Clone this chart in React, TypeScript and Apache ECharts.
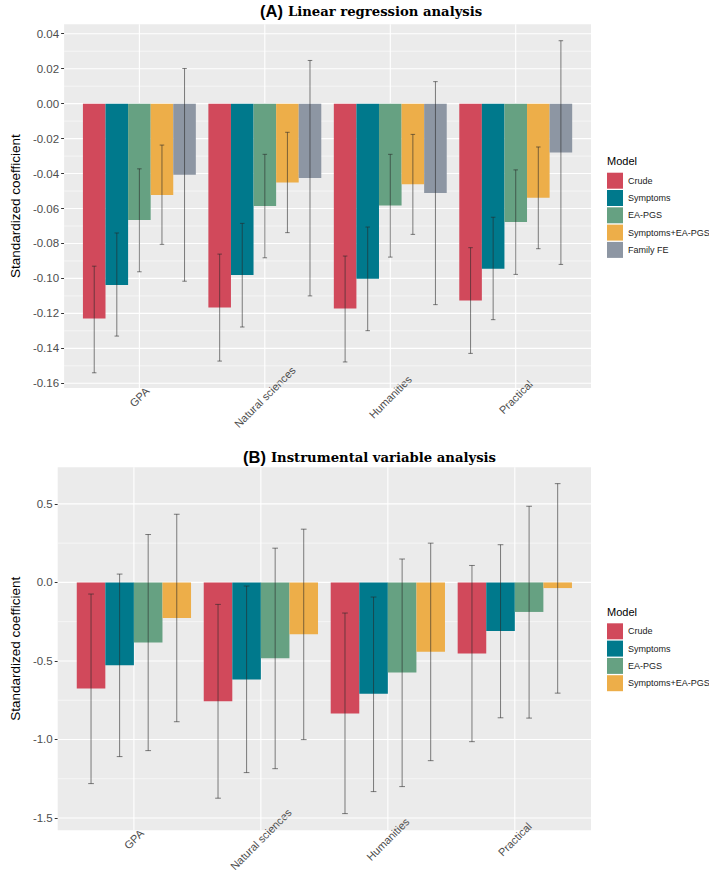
import React, { useEffect, useRef } from 'react';
import * as echarts from 'echarts';

// ---------- data ----------
const categories = ['GPA', 'Natural sciences', 'Humanities', 'Practical'];
const modelsA = ['Crude', 'Symptoms', 'EA-PGS', 'Symptoms+EA-PGS', 'Family FE'];
const modelsB = ['Crude', 'Symptoms', 'EA-PGS', 'Symptoms+EA-PGS'];

// Panel A: linear regression (rows = models, cols = categories)
const estimateA = [
  [-0.1230, -0.1167, -0.1172, -0.1127],
  [-0.1037, -0.0981, -0.1002, -0.0945],
  [-0.0666, -0.0585, -0.0583, -0.0677],
  [-0.0522, -0.0451, -0.0461, -0.0539],
  [-0.0407, -0.0426, -0.0511, -0.0279],
];
const lowerA = [
  [-0.1540, -0.1473, -0.1478, -0.1429],
  [-0.1330, -0.1278, -0.1299, -0.1236],
  [-0.0962, -0.0882, -0.0878, -0.0977],
  [-0.0805, -0.0738, -0.0748, -0.0830],
  [-0.1016, -0.1100, -0.1150, -0.0920],
];
const upperA = [
  [-0.0930, -0.0861, -0.0872, -0.0824],
  [-0.0740, -0.0685, -0.0706, -0.0650],
  [-0.0373, -0.0290, -0.0290, -0.0379],
  [-0.0237, -0.0164, -0.0176, -0.0248],
  [0.0201, 0.0247, 0.0126, 0.0360],
];

// Panel B: instrumental variable
const estimateB = [
  [-0.675, -0.756, -0.834, -0.453],
  [-0.527, -0.618, -0.709, -0.309],
  [-0.383, -0.483, -0.574, -0.188],
  [-0.226, -0.330, -0.442, -0.036],
];
const lowerB = [
  [-1.281, -1.374, -1.472, -1.014],
  [-1.109, -1.211, -1.332, -0.862],
  [-1.071, -1.186, -1.300, -0.864],
  [-0.887, -1.001, -1.135, -0.705],
];
const upperB = [
  [-0.074, -0.140, -0.195, 0.108],
  [0.053, -0.023, -0.093, 0.240],
  [0.305, 0.218, 0.149, 0.485],
  [0.434, 0.339, 0.250, 0.629],
];

// axis ticks
const majorTicksA = [0.04, 0.02, 0, -0.02, -0.04, -0.06, -0.08, -0.1, -0.12, -0.14, -0.16];
const minorTicksA = [0.03, 0.01, -0.01, -0.03, -0.05, -0.07, -0.09, -0.11, -0.13, -0.15];
const majorTicksB = [0.5, 0, -0.5, -1, -1.5];
const minorTicksB = [0.25, -0.25, -0.75, -1.25];
const yRangeA = [-0.1627, 0.0454];
const yRangeB = [-1.578, 0.733];
const xRange = [0.4, 4.6];
const catPositions = [1, 2, 3, 4];

// ---------- styles ----------
const COLORS: Record<string, string> = {
  Crude: '#D1495B',
  Symptoms: '#00798C',
  'EA-PGS': '#66A182',
  'Symptoms+EA-PGS': '#EDAE49',
  'Family FE': '#8D96A3',
};
const SANS = 'Liberation Sans, Arial, Helvetica, sans-serif';
const SERIF = 'DejaVu Serif, Liberation Serif, serif';
const PANEL_BG = '#EBEBEB';
const TICK_TEXT = '#4D4D4D';
const ERR_COLOR = 'rgba(40,40,40,0.58)';

function gridLineSeries(gi: number, yr: number[], majors: number[], minors: number[]) {
  const data: number[][] = [];
  minors.forEach((v) => data.push([1, v, 0]));
  majors.forEach((v) => data.push([1, v, 1]));
  catPositions.forEach((c) => data.push([c, 0, 2]));
  return {
    type: 'custom',
    xAxisIndex: gi,
    yAxisIndex: gi,
    z: 1,
    silent: true,
    data,
    renderItem: (_p: any, api: any) => {
      const kind = api.value(2);
      if (kind === 2) {
        const x = api.value(0);
        const a = api.coord([x, yr[0]]);
        const b = api.coord([x, yr[1]]);
        return { type: 'line', shape: { x1: a[0], y1: a[1], x2: b[0], y2: b[1] }, style: { stroke: '#FFFFFF', lineWidth: 1.1 } };
      }
      const y = api.value(1);
      const a = api.coord([xRange[0], y]);
      const b = api.coord([xRange[1], y]);
      return {
        type: 'line',
        shape: { x1: a[0], y1: a[1], x2: b[0], y2: b[1] },
        style: { stroke: '#FFFFFF', lineWidth: kind === 1 ? 1.1 : 0.55 },
      };
    },
  };
}

function barSeries(gi: number, models: string[], est: number[][], lo: number[][], hi: number[][]) {
  const n = models.length;
  return models.map((m, j) => ({
    type: 'custom',
    name: m,
    xAxisIndex: gi,
    yAxisIndex: gi,
    z: 3,
    itemStyle: { color: COLORS[m] },
    data: catPositions.map((c, i) => [c, est[j][i], lo[j][i], hi[j][i]]),
    renderItem: (_p: any, api: any) => {
      const x = api.value(0);
      const v = api.value(1);
      const l = api.value(2);
      const h = api.value(3);
      const unit = api.size([1, 0])[0];
      const bw = (unit * 0.9) / n;
      const off = (j - (n - 1) / 2) * bw;
      const p0 = api.coord([x, 0]);
      const p1 = api.coord([x, v]);
      const pl = api.coord([x, l]);
      const ph = api.coord([x, h]);
      const cx = p0[0] + off;
      const cap = bw * 0.1;
      return {
        type: 'group',
        children: [
          {
            type: 'rect',
            shape: { x: cx - bw / 2, y: Math.min(p0[1], p1[1]), width: bw, height: Math.abs(p1[1] - p0[1]) },
            style: { fill: COLORS[m] },
          },
          { type: 'line', shape: { x1: cx, y1: pl[1], x2: cx, y2: ph[1] }, style: { stroke: ERR_COLOR, lineWidth: 1 } },
          { type: 'line', shape: { x1: cx - cap, y1: pl[1], x2: cx + cap, y2: pl[1] }, style: { stroke: ERR_COLOR, lineWidth: 1 } },
          { type: 'line', shape: { x1: cx - cap, y1: ph[1], x2: cx + cap, y2: ph[1] }, style: { stroke: ERR_COLOR, lineWidth: 1 } },
        ],
      };
    },
  }));
}

function xAxisFor(gi: number) {
  return {
    type: 'value',
    gridIndex: gi,
    min: xRange[0],
    max: xRange[1],
    axisLine: { show: false },
    splitLine: { show: false },
    axisTick: { show: true, customValues: catPositions, length: 3, lineStyle: { color: '#333333', width: 1 } },
    axisLabel: {
      customValues: catPositions,
      formatter: (v: number) => categories[Math.round(v) - 1] || '',
      rotate: 45,
      align: 'center',
      verticalAlign: 'middle',
      margin: 9,
      color: TICK_TEXT,
      fontSize: 11,
      fontFamily: SANS,
    },
  };
}

function yAxisFor(gi: number, yr: number[], majors: number[], digits: number, nameGap: number) {
  return {
    type: 'value',
    gridIndex: gi,
    min: yr[0],
    max: yr[1],
    name: 'Standardized coefficient',
    nameLocation: 'middle',
    nameGap,
    nameTextStyle: { fontSize: 13.5, color: '#000000', fontFamily: SANS },
    axisLine: { show: false },
    splitLine: { show: false },
    axisTick: { show: true, customValues: majors, length: 3, lineStyle: { color: '#333333', width: 1 } },
    axisLabel: {
      customValues: majors,
      formatter: (v: number) => v.toFixed(digits),
      margin: 5,
      color: TICK_TEXT,
      fontSize: 11.5,
      fontFamily: SANS,
    },
  };
}

function mainTitle(letter: string, text: string, left: number, top: number) {
  return {
    text: `{a|(${letter})} {b|${text}}`,
    left,
    top,
    padding: 0,
    textStyle: {
      rich: {
        a: { fontFamily: SANS, fontWeight: 'bold', fontSize: 16.5, color: '#000000' },
        b: { fontFamily: SERIF, fontWeight: 'bold', fontSize: 13.2, color: '#000000' },
      },
    },
  };
}

function legendFor(models: string[], top: number) {
  return {
    data: models,
    orient: 'vertical',
    left: 607,
    top,
    padding: 0,
    itemWidth: 16,
    itemHeight: 16,
    itemGap: 1.3,
    icon: 'rect',
    selectedMode: false,
    textStyle: { fontSize: 9, color: '#1A1A1A', fontFamily: SANS },
  };
}

export default function App() {
  const ref = useRef<HTMLDivElement>(null);
  useEffect(() => {
    if (!ref.current) return;
    const chart = echarts.init(ref.current, null, { renderer: 'svg' });
    const option: any = {
      animation: false,
      backgroundColor: '#FFFFFF',
      textStyle: { fontFamily: SANS },
      title: [
        mainTitle('A', 'Linear regression analysis', 260, 2),
        mainTitle('B', 'Instrumental variable analysis', 243, 448),
        { text: 'Model', left: 607, top: 155, padding: 0, textStyle: { fontSize: 11, fontWeight: 'normal', color: '#000000', fontFamily: SANS } },
        { text: 'Model', left: 607, top: 606, padding: 0, textStyle: { fontSize: 11, fontWeight: 'normal', color: '#000000', fontFamily: SANS } },
      ],
      legend: [legendFor(modelsA, 172.7), legendFor(modelsB, 623.3)],
      grid: [
        { left: 49.3, right: 118, top: 24.3, height: 363.7, show: true, backgroundColor: PANEL_BG, borderWidth: 0 },
        { left: 42.7, right: 118, top: 467.3, height: 363.7, show: true, backgroundColor: PANEL_BG, borderWidth: 0 },
      ],
      xAxis: [xAxisFor(0), xAxisFor(1)],
      yAxis: [yAxisFor(0, yRangeA, majorTicksA, 2, 36), yAxisFor(1, yRangeB, majorTicksB, 1, 29.5)],
      series: [
        gridLineSeries(0, yRangeA, majorTicksA, minorTicksA),
        gridLineSeries(1, yRangeB, majorTicksB, minorTicksB),
        ...barSeries(0, modelsA, estimateA, lowerA, upperA),
        ...barSeries(1, modelsB, estimateB, lowerB, upperB),
      ],
    };
    chart.setOption(option);
    return () => chart.dispose();
  }, []);
  return <div ref={ref} style={{ position: 'absolute', left: 0, top: 0, width: 709, height: 874 }} />;
}
